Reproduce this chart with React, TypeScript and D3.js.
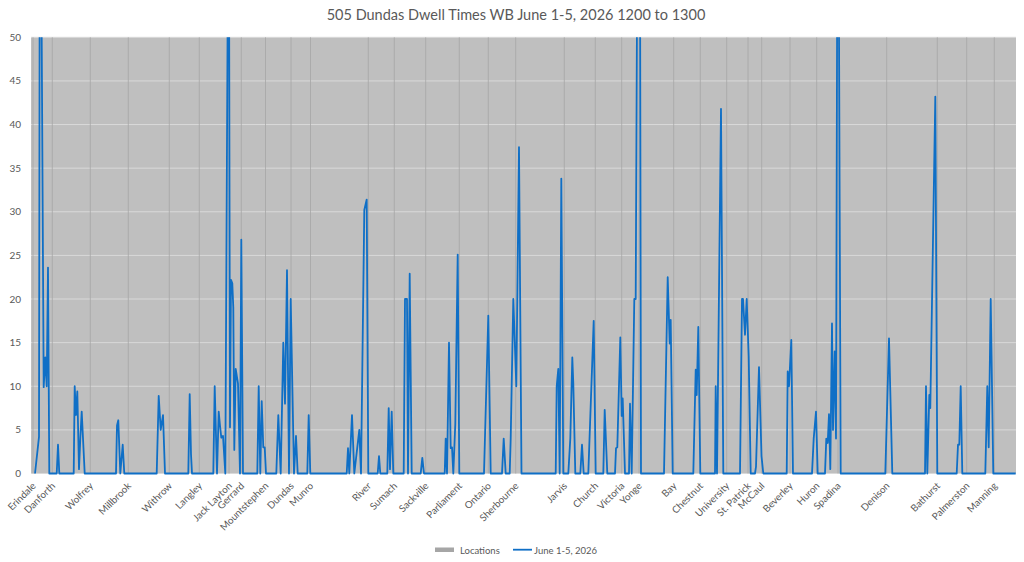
import React from "react";
import * as d3 from "d3";

const title = "505 Dundas Dwell Times WB June 1-5, 2026 1200 to 1300";

const locations = [
  "Erindale", "Danforth", "Wolfrey", "Millbrook", "Withrow", "Langley", "Jack Layton", "Gerrard",
  "Mountstephen", "Dundas", "Munro", "River", "Sumach", "Sackville", "Parliament", "Ontario",
  "Sherbourne", "Jarvis", "Church", "Victoria", "Yonge", "Bay", "Chestnut", "University",
  "St. Patrick", "McCaul", "Beverley", "Huron", "Spadina", "Denison", "Bathurst", "Palmerston", "Manning",
];
const locationPos = [
  2, 21.3, 59.3, 97.3, 138.3, 168.3, 198, 210.3, 234.5, 260, 279.5, 337.3, 363.3, 394.7, 428.3, 457.3,
  484.7, 533.3, 564.3, 590.7, 608, 642.7, 669.3, 695.7, 717, 730.7, 759, 785.7, 807, 855.7, 906.3, 935.7, 963.3,
];

const yTicks = [0, 5, 10, 15, 20, 25, 30, 35, 40, 45, 50];

// [position along route, dwell seconds]
const dwell: [number, number][] = [
  [4, 0], [8, 4.2], [8.7, 58], [10.3, 58], [12.7, 9.9], [14.3, 13.3], [15.7, 10], [17, 23.6], [18.3, 0],
  [25.7, 0], [27, 3.3], [28.3, 0],
  [42.7, 0], [43.7, 10], [45, 6.7], [46.3, 9.4], [48, 0.5], [49.3, 4], [50.7, 7.1], [53.7, 0],
  [85, 0], [86, 5.5], [87.3, 6.1], [89.3, 0], [91.7, 3.3], [93.3, 0],
  [125.7, 0], [127.7, 8.9], [129.7, 5], [132, 6.7], [134, 0],
  [157.3, 0], [158.7, 9.1], [160, 2.2], [161, 0],
  [182.3, 0], [183.7, 10], [186, 0], [187.7, 7.1], [189, 5.5], [190.3, 4.1], [192, 4.3], [194.3, 0],
  [197, 60], [198, 60], [199, 5.3], [200, 22.2], [201.3, 21.8], [202.3, 19], [203.3, 2.7], [204.7, 12],
  [207, 10.3], [209, 0], [210.3, 26.8], [212, 0],
  [226.3, 0], [227.7, 10], [229.3, 0], [230.7, 8.3], [232.3, 3], [233.7, 3], [235, 0],
  [245.3, 0], [247.3, 6.7], [249.7, 0], [252.3, 15], [254, 8], [256, 23.3], [258, 0], [259.7, 20],
  [263, 0], [265, 4.3], [266.7, 0],
  [276.3, 0], [277.7, 6.7], [279.3, 0],
  [315.7, 0], [317, 2.9], [318.3, 0], [321, 6.7], [323.3, 0], [328.3, 5], [330, 0], [333.3, 30.2],
  [335.7, 31.4], [337.3, 0],
  [346.7, 0], [348, 2], [349.3, 0],
  [356.3, 0], [357.7, 7.5], [359, 0.5], [360.7, 7.1], [362.3, 0],
  [372.7, 0], [374, 20], [376, 20], [377, 0], [378.7, 22.9], [380.7, 0],
  [389.7, 0], [391.3, 1.8], [393, 0],
  [413.7, 0], [414.7, 4], [416, 0], [418, 15], [419.7, 2.9], [421, 3], [422.3, 0], [424.3, 5.7],
  [426.7, 25.1], [428.3, 0],
  [453, 0], [457.3, 18.1], [459.7, 0],
  [471, 0], [472.7, 4], [474.7, 0], [478.7, 0], [479.7, 4], [482.3, 20], [485.3, 10], [488, 37.4], [490.5, 0],
  [524.7, 0], [525.7, 10], [527.3, 12], [528.7, 0], [530.3, 33.8], [532.3, 0],
  [537.3, 0], [539.3, 4], [541.3, 13.3], [542.3, 10.3], [544.3, 0],
  [549.3, 0], [551, 3.3], [552.7, 0],
  [557.3, 0], [562.7, 17.5], [564.7, 0],
  [572.3, 0], [573.7, 7.3], [576.3, 0],
  [584, 0], [585, 2.9], [586.3, 3], [589.3, 15.6], [590.7, 6.6], [591.7, 8.6], [594, 0],
  [598, 0], [599, 8], [600.7, 0], [603.3, 20], [604.7, 20], [606.3, 60], [609, 60], [610, 0],
  [633, 0], [636.7, 22.5], [638.7, 14.9], [639.7, 17.6], [641.7, 0],
  [662.3, 0], [664.7, 11.9], [665.7, 9], [667.3, 16.8], [669.3, 0],
  [684, 0], [684.7, 10], [686, 0], [690, 41.8], [692.3, 0],
  [709, 0], [711, 20], [712, 20], [714, 15.9], [715.7, 20], [717.7, 13.4], [719.7, 0],
  [724, 0], [725, 0.8], [728, 12.2], [730.5, 2], [732.3, 0],
  [755.7, 0], [756.7, 11.7], [758, 10], [760.3, 15.3], [762, 0],
  [781, 0], [782.7, 4], [785, 7.1], [786.7, 0],
  [794, 0], [795.3, 4], [796.7, 3.5], [798, 6.8], [799.3, 0.5], [801, 17.2], [802, 5], [803.7, 14],
  [805, 4], [806.3, 60], [807.7, 60], [809.7, 0],
  [854.3, 0], [858, 15.5], [861.3, 0],
  [894, 0], [895, 10], [896.3, 0], [898.3, 9], [899.3, 7.5], [904.3, 43.2], [906.3, 0],
  [925.7, 0], [927, 3.3], [928.3, 3.3], [929.7, 10], [931.3, 0],
  [954.3, 0], [956.3, 10], [957.7, 3], [959.7, 20], [962.3, 0],
  [984.7, 0],
];

const W = 1024;
const H = 562;
const plot = { left: 31, right: 1016, top: 37.3, bottom: 473.5 };
const font = "Lato, 'Open Sans', sans-serif";
const textColor = "#595959";
const lineColor = "#0f6fc6";

export default function App() {
  const x = d3.scaleLinear().domain([0, 985]).range([plot.left, plot.right]);
  const y = d3.scaleLinear().domain([0, 50]).range([plot.bottom, plot.top]);
  const line = d3
    .line<[number, number]>()
    .x((d) => x(d[0]))
    .y((d) => y(d[1]));

  return (
    <svg
      width={W}
      height={H}
      style={{ position: "absolute", left: 0, top: 0, background: "#fff" }}
      fontFamily={font}
    >
      <defs>
        <clipPath id="plotClip">
          <rect x={plot.left} y={plot.top} width={plot.right - plot.left} height={plot.bottom - plot.top + 3} />
        </clipPath>
      </defs>
      <text x={516} y={20} textAnchor="middle" fontSize={14.5} fill={textColor}>
        {title}
      </text>
      <rect x={plot.left} y={plot.top} width={plot.right - plot.left} height={plot.bottom - plot.top} fill="#bfbfbf" />
      {yTicks.map((t) => (
        <g key={t}>
          <line x1={plot.left} x2={plot.right} y1={y(t)} y2={y(t)} stroke="#d9d9d9" strokeWidth={1} />
          <text x={21} y={y(t)} dy="0.35em" textAnchor="end" fontSize={10} fill={textColor}>
            {t}
          </text>
        </g>
      ))}
      {locationPos.map((p, i) => (
        <line key={i} x1={x(p)} x2={x(p)} y1={plot.top} y2={plot.bottom} stroke="#a6a6a6" strokeWidth={0.8} />
      ))}
      <path d={line(dwell) || ""} fill="none" stroke={lineColor} strokeWidth={1.8} strokeLinejoin="round" clipPath="url(#plotClip)" />
      {locations.map((name, i) => (
        <text
          key={name}
          transform={`translate(${x(locationPos[i]) + 3.5},${plot.bottom + 13}) rotate(-45)`}
          textAnchor="end"
          fontSize={9.8}
          fill={textColor}
        >
          {name}
        </text>
      ))}
      <g>
        <rect x={435} y={547.5} width={19} height={4.5} fill="#a6a6a6" />
        <text x={460} y={553.5} fontSize={9.5} fill={textColor}>
          Locations
        </text>
        <line x1={513} x2={532} y1={549.7} y2={549.7} stroke={lineColor} strokeWidth={1.8} />
        <text x={534} y={553.5} fontSize={9.5} fill={textColor}>
          June 1-5, 2026
        </text>
      </g>
    </svg>
  );
}
